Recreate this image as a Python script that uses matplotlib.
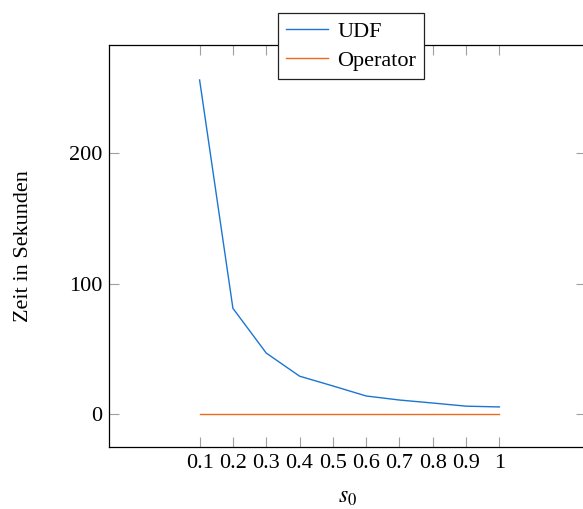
import matplotlib
matplotlib.use("Agg")
import matplotlib.pyplot as plt

plt.rcParams['font.family'] = ['Liberation Serif', 'DejaVu Serif']
plt.rcParams['mathtext.fontset'] = 'stix'

s0 = [0.1, 0.2, 0.3, 0.4, 0.5, 0.6, 0.7, 0.8, 0.9, 1.0]
udf = [256, 81, 46.7, 29, 21.5, 13.8, 10.7, 8.4, 6, 5.4]
operator = [0.3, 0.3, 0.3, 0.3, 0.3, 0.3, 0.3, 0.3, 0.3, 0.3]
xtick_labels = ['0.1', '0.2', '0.3', '0.4', '0.5', '0.6', '0.7', '0.8', '0.9', '1']

W, H = 583, 509
fig = plt.figure(figsize=(W / 100, H / 100), dpi=100)
ax = fig.add_axes([109 / W, 1 - 447 / H, (586 - 109) / W, (447 - 45) / H])

ax.plot(s0, udf, color='#1a76d2', lw=1.0, label='UDF')
ax.plot(s0, operator, color='#ee6a1c', lw=1.0, label='Operator')

ax.set_xlim(-0.172, 1.26)
ax.set_ylim(-25.3, 282.8)
ax.set_xticks(s0)
ax.set_xticklabels(xtick_labels)
ax.set_yticks([0, 100, 200])

ax.tick_params(direction='in', length=7, width=0.8, color='#a0a0a0',
               top=True, right=True, labelsize=16, pad=5)
for sp in ax.spines.values():
    sp.set_linewidth(0.9)

ax.set_xlabel('$s_0$', fontsize=17, labelpad=10)
ax.set_ylabel('Zeit in Sekunden', fontsize=16, labelpad=26)

leg = ax.legend(loc='center', bbox_to_anchor=(351 / W, 1 - 46 / H),
                bbox_transform=fig.transFigure, fontsize=16, fancybox=False,
                framealpha=1, edgecolor='#222222', handlelength=1.9,
                borderpad=0.38, labelspacing=0.4, handletextpad=0.4)
leg.get_frame().set_linewidth(0.9)

fig.savefig('out.png', dpi=100)
